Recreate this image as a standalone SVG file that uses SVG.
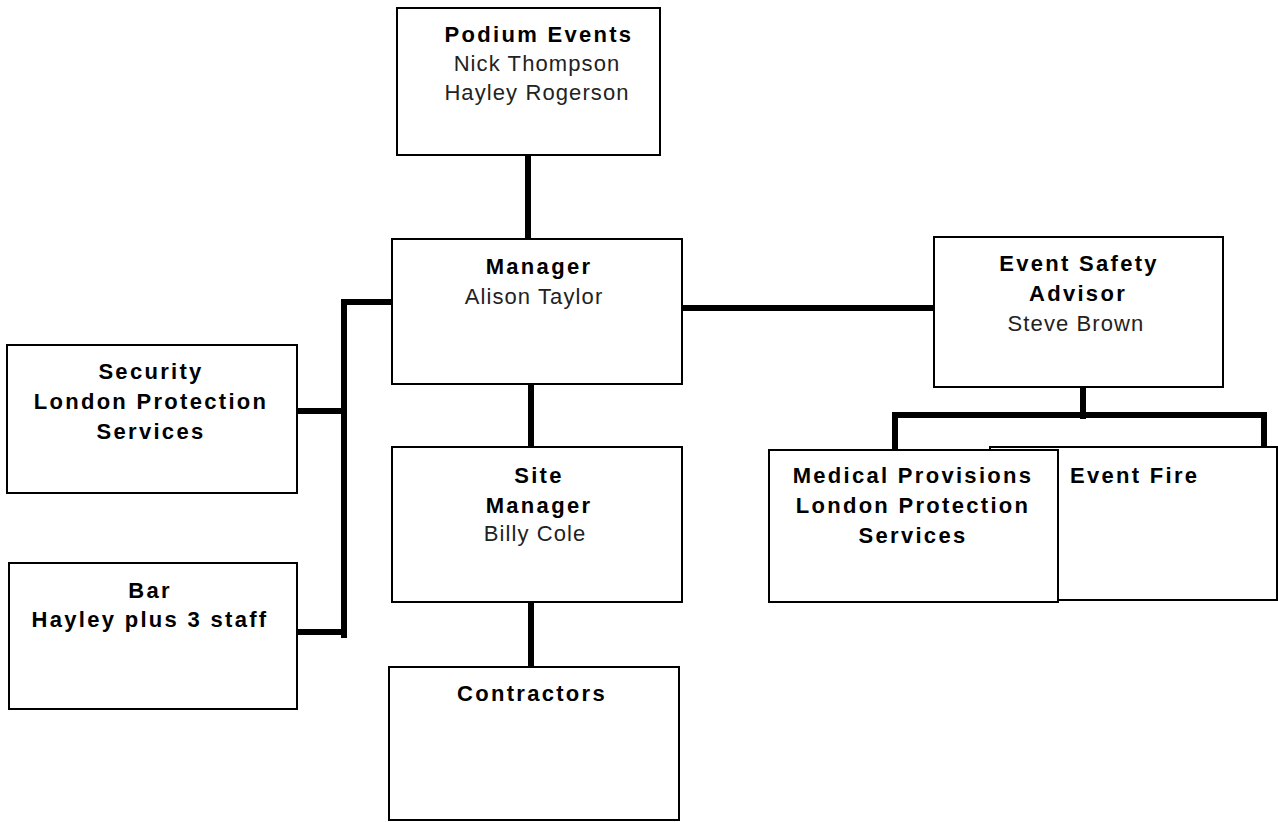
<svg xmlns="http://www.w3.org/2000/svg" width="1278" height="822" viewBox="0 0 1278 822">
<style>
.box{fill:#fff;stroke:#000;stroke-width:2}
.b{font-family:"Liberation Sans",Arial,sans-serif;font-size:22px;font-weight:bold;letter-spacing:2.3px;fill:#000;text-anchor:middle}
.r{font-family:"Liberation Sans",Arial,sans-serif;font-size:22px;letter-spacing:1.1px;fill:#222;text-anchor:middle}
.c{fill:none;stroke:#000;stroke-width:6}
</style>
<rect width="1278" height="822" fill="#fff"/>
<g id="connectors">
<path class="c" d="M528 155V239"/>
<path class="c" d="M392 302H344V638"/>
<path class="c" d="M295 411H344"/>
<path class="c" d="M298 632H344"/>
<path class="c" d="M531 384V448"/>
<path class="c" d="M531 602V668"/>
<path class="c" d="M682 308H937"/>
<path class="c" d="M1083 387V419"/>
<path class="c" d="M895 449V415H1264V448"/>
</g>
<g id="podium">
<rect class="box" x="397" y="8" width="263" height="147"/>
<text class="b" x="539" y="42">Podium Events</text>
<text class="r" x="537" y="71">Nick Thompson</text>
<text class="r" x="537" y="100">Hayley Rogerson</text>
</g>
<g id="manager">
<rect class="box" x="392" y="239" width="290" height="145"/>
<text class="b" x="539" y="274">Manager</text>
<text class="r" x="534" y="304">Alison Taylor</text>
</g>
<g id="esa">
<rect class="box" x="934" y="237" width="289" height="150"/>
<text class="b" x="1079" y="271">Event Safety</text>
<text class="b" x="1078" y="301">Advisor</text>
<text class="r" x="1076" y="331">Steve  Brown</text>
</g>
<g id="security">
<rect class="box" x="7" y="345" width="290" height="148"/>
<text class="b" x="151" y="379">Security</text>
<text class="b" x="151" y="409">London Protection</text>
<text class="b" x="151" y="439">Services</text>
</g>
<g id="bar">
<rect class="box" x="9" y="563" width="288" height="146"/>
<text class="b" x="150" y="598">Bar</text>
<text class="b" x="150" y="627">Hayley plus 3 staff</text>
</g>
<g id="site-manager">
<rect class="box" x="392" y="447" width="290" height="155"/>
<text class="b" x="539" y="483">Site</text>
<text class="b" x="539" y="513">Manager</text>
<text class="r" x="535" y="541">Billy Cole</text>
</g>
<g id="contractors">
<rect class="box" x="389" y="667" width="290" height="153"/>
<text class="b" x="532" y="701">Contractors</text>
</g>
<g id="event-fire">
<rect class="box" x="990" y="447" width="287" height="153"/>
<text class="b" x="1070" y="483" style="text-anchor:start">Event Fire</text>
</g>
<g id="medical">
<rect class="box" x="769" y="450" width="289" height="152"/>
<text class="b" x="913" y="483">Medical Provisions</text>
<text class="b" x="913" y="513">London Protection</text>
<text class="b" x="913" y="543">Services</text>
</g>
</svg>
